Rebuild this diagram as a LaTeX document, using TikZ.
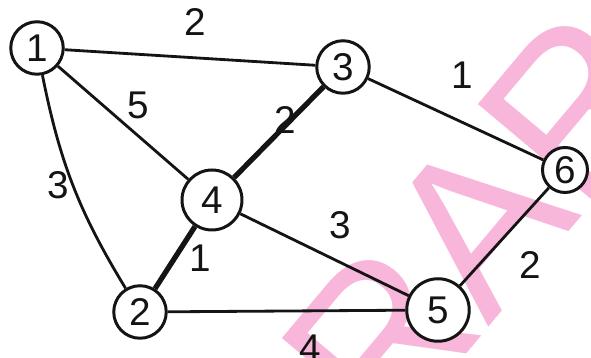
\documentclass[tikz,border=0pt]{standalone}
\usepackage{fontspec}
\setmainfont{Liberation Sans}
\usetikzlibrary{positioning}
\definecolor{markpink}{HTML}{F7B6DA}
\definecolor{inkblack}{HTML}{141414}

\begin{document}
\begin{tikzpicture}[font=\fontsize{22}{26}\selectfont,
  vertex/.style={draw=inkblack, circle, line width=1.7pt, minimum size=1.05cm, inner sep=0pt, fill=white, text=inkblack},
  edge/.style={inkblack, line width=1.6pt},
  heavy/.style={inkblack, line width=3pt},
  weight/.style={text=inkblack, inner sep=1pt}]
\useasboundingbox (0,0) rectangle (11.82,7.16);
% watermark
\begin{scope}
\clip (0,0) rectangle (11.82,7.16);
\node[text=markpink, rotate=50, font=\fontsize{125}{125}\selectfont] (mark) at (9.55,2.7) {RAR};
\end{scope}
% vertices
\node[vertex] (v1) at (0.74,6.20) {1};
\node[vertex] (v3) at (6.86,5.82) {3};
\node[vertex, minimum size=0.9cm] (v6) at (11.30,3.76) {6};
\node[vertex, minimum size=1.2cm] (v4) at (4.24,3.16) {4};
\node[vertex] (v2) at (2.80,0.92) {2};
\node[vertex, minimum size=1.25cm] (v5) at (8.76,0.96) {5};
% edges
\draw[edge] (v1) -- (v3);
\draw[edge] (v1) -- (v4);
\draw[edge] (v1) to[bend right=10] (v2);
\draw[heavy] (v3) -- (v4);
\draw[edge] (v3) -- (v6);
\draw[heavy] (v4) -- (v2);
\draw[edge] (v4) -- (v5);
\draw[edge] (v6) -- (v5);
\draw[edge] (v2) -- (v5);
% weights
\node[weight] (w13) at (3.90,6.72) {2};
\node[weight] (w14) at (2.76,5.06) {5};
\node[weight] (w12) at (1.16,3.46) {3};
\node[weight] (w34) at (5.70,4.76) {2};
\node[weight] (w36) at (9.24,5.66) {1};
\node[weight] (w42) at (4.00,2.00) {1};
\node[weight] (w45) at (6.80,2.66) {3};
\node[weight] (w65) at (10.60,1.86) {2};
\node[weight] (w25) at (6.20,0.20) {4};
\end{tikzpicture}
\end{document}
